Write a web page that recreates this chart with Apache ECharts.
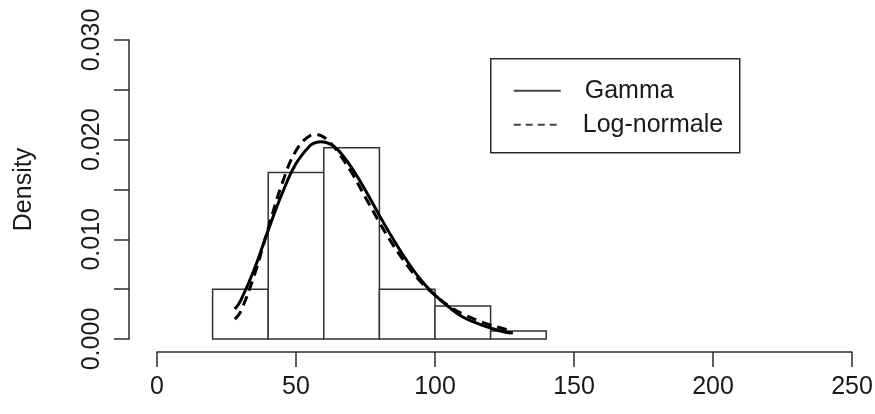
<!DOCTYPE html>
<html>
<head>
<meta charset="utf-8">
<script src="https://cdn.jsdelivr.net/npm/echarts@6/dist/echarts.min.js"></script>
<style>
html,body{margin:0;padding:0;background:#fff;}
#chart{width:875px;height:414px;}
</style>
</head>
<body>
<div id="chart"></div>
<script>
// Histogram bins (lower, upper) and densities
const binStart = [20, 40, 60, 80, 100, 120];
const binEnd   = [40, 60, 80, 100, 120, 140];
const binDensity = [0.0050, 0.0167, 0.0192, 0.0050, 0.0033, 0.0008];

// Fitted curves
const curveX = [28, 30, 35, 40, 45, 50, 55, 57, 59, 62, 65, 70, 75, 80, 85, 90, 95, 100, 105, 110, 115, 120, 125, 128];
const gammaY = [0.0030, 0.0038, 0.0070, 0.0109, 0.0146, 0.0176, 0.0194, 0.0197, 0.0198, 0.0196, 0.0190, 0.0172, 0.0149, 0.0124, 0.0100, 0.0078, 0.0059, 0.0044, 0.0032, 0.0022, 0.0016, 0.0011, 0.0007, 0.0006];
const lognormY = [0.0020, 0.0027, 0.0064, 0.0111, 0.0156, 0.0189, 0.0204, 0.0205, 0.0204, 0.0198, 0.0188, 0.0167, 0.0142, 0.0117, 0.0094, 0.0074, 0.0057, 0.0044, 0.0033, 0.0025, 0.0019, 0.0014, 0.0010, 0.0008];

const xTicks = [0, 50, 100, 150, 200, 250];
const yTickLabels = ['0.000', '', '0.010', '', '0.020', '', '0.030'];
const seriesNames = ['Gamma', 'Log-normale'];
const yLabel = 'Density';

const FONT = '"Liberation Sans", Arial, Helvetica, sans-serif';
const AX = '#2b2b2b';
const FS = 25;

const histData = binStart.map((s, i) => [s, binEnd[i], binDensity[i]]);
const gammaData = curveX.map((x, i) => [x, gammaY[i]]);
const lognormData = curveX.map((x, i) => [x, lognormY[i]]);

const chart = echarts.init(document.getElementById('chart'), null, {renderer: 'canvas'});
chart.setOption({
  animation: false,
  backgroundColor: '#fff',
  grid: {left: 157, right: 23, top: 40, bottom: 75, containLabel: false, outerBoundsMode: 'none'},
  xAxis: {
    type: 'value', min: 0, max: 250, interval: 50, offset: 13,
    axisLine: {show: true, onZero: false, lineStyle: {color: AX, width: 1.5}},
    axisTick: {show: true, length: 15, lineStyle: {color: AX, width: 1.5}},
    axisLabel: {fontFamily: FONT, fontSize: FS, color: '#1a1a1a', margin: 23,
      showMinLabel: true, showMaxLabel: true, hideOverlap: false,
      formatter: v => xTicks.indexOf(v) >= 0 ? String(v) : ''},
    splitLine: {show: false}
  },
  yAxis: {
    type: 'value', min: 0, max: 0.03, interval: 0.005, offset: 28,
    name: yLabel, nameLocation: 'middle', nameRotate: 90, nameGap: 92,
    nameTextStyle: {fontFamily: FONT, fontSize: FS, color: '#1a1a1a'},
    axisLine: {show: true, onZero: false, lineStyle: {color: AX, width: 1.5}},
    axisTick: {show: true, length: 15, lineStyle: {color: AX, width: 1.5}},
    axisLabel: {fontFamily: FONT, fontSize: FS, color: '#1a1a1a', margin: 24, rotate: 90,
      showMinLabel: true, showMaxLabel: true, hideOverlap: false,
      formatter: v => yTickLabels[Math.round(v / 0.005)] || ''},
    splitLine: {show: false}
  },
  graphic: [{
    type: 'group', left: 490, top: 58, silent: true,
    children: [
      {type: 'rect', shape: {x: 0, y: 0, width: 249, height: 94},
        style: {fill: '#fff', stroke: AX, lineWidth: 1.5}},
      {type: 'line', shape: {x1: 23, y1: 32, x2: 70, y2: 32},
        style: {stroke: '#444', lineWidth: 2}},
      {type: 'line', shape: {x1: 23, y1: 66, x2: 70, y2: 66},
        style: {stroke: '#444', lineWidth: 2, lineDash: [7, 5]}},
      {type: 'text', x: 94, y: 32, style: {text: seriesNames[0], font: FS + 'px ' + FONT,
        fill: '#1a1a1a', verticalAlign: 'middle', align: 'left'}},
      {type: 'text', x: 92, y: 66, style: {text: seriesNames[1], font: FS + 'px ' + FONT,
        fill: '#1a1a1a', verticalAlign: 'middle', align: 'left'}}
    ]
  }],
  series: [
    {
      type: 'custom', name: 'hist', silent: true, z: 1,
      data: histData,
      encode: {x: [0, 1], y: 2},
      renderItem: function (params, api) {
        const p0 = api.coord([api.value(0), api.value(2)]);
        const p1 = api.coord([api.value(1), 0]);
        return {
          type: 'rect',
          shape: {x: p0[0], y: p0[1], width: p1[0] - p0[0], height: p1[1] - p0[1]},
          style: {fill: '#fff', stroke: '#333', lineWidth: 1.5}
        };
      }
    },
    {
      type: 'line', name: seriesNames[0], data: gammaData, smooth: 0.4, symbol: 'none', z: 3,
      lineStyle: {color: '#000', width: 3}, itemStyle: {color: '#000'}
    },
    {
      type: 'line', name: seriesNames[1], data: lognormData, smooth: 0.4, symbol: 'none', z: 3,
      lineStyle: {color: '#000', width: 3, type: [10, 6]}, itemStyle: {color: '#000'}
    }
  ]
});
</script>
</body>
</html>
